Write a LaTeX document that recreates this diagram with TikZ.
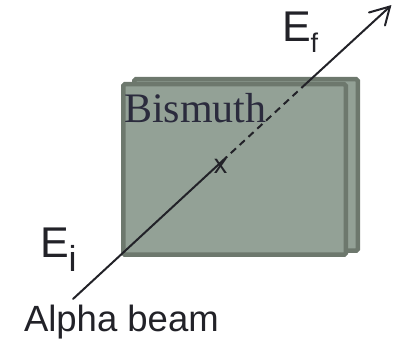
\documentclass[tikz,border=0pt]{standalone}
\usepackage{fontspec}
\setmainfont{Liberation Sans}
\newfontfamily\serifbis{Liberation Serif}
\usetikzlibrary{arrows.meta}
\definecolor{platefill}{HTML}{93A196}
\definecolor{plateedge}{HTML}{6D786D}
\definecolor{ink}{HTML}{222228}
\definecolor{bisink}{HTML}{2B2B3D}
\tikzset{
  plate/.style={fill=platefill,draw=plateedge,line width=4.5pt,rounded corners=1.5pt},
  lbl/.style={inner sep=0pt,outer sep=0pt,text=ink,anchor=base west},
  beam/.style={draw=ink,line width=2pt},
}
\begin{document}
\begin{tikzpicture}[x=1pt,y=-1pt]
\useasboundingbox (0,0) rectangle (399,347);
% plates
\draw[plate] (134.25,79.25) rectangle (357.75,250.75);
\draw[plate] (123.25,84.25) rectangle (345.75,254.75);
% labels
\node[lbl,text=bisink] (bis) at (124,123) {\serifbis\fontsize{42}{42}\selectfont Bismuth};
\node[lbl] (ef) at (282,42) {\fontsize{43}{43}\selectfont E\fontsize{27}{27}\selectfont\raisebox{-11pt}{f}};
\node[lbl] (ei) at (40,258) {\fontsize{43}{43}\selectfont E\fontsize{36}{36}\selectfont\raisebox{-14pt}{i}};
\node[lbl] (alpha) at (24,332) {\fontsize{36.5}{36.5}\selectfont Alpha beam};
\node[inner sep=0pt,text=ink] (xm) at (220.5,166) {\fontsize{27}{27}\selectfont x};
% beam
\coordinate (start) at (73,299);
\coordinate (mid) at (222,161.3);
\coordinate (dend) at (306,83.7);
\coordinate (tip) at (390,6.5);
\draw[beam,line cap=round] (start) -- (mid);
\draw[beam,dash pattern=on 7pt off 5pt] (mid) -- (dend);
\draw[beam] (dend) -- (tip);
\draw[beam,line cap=round,line join=miter] (tip) ++(-21,6) -- (tip) -- ++(-5,19);
\end{tikzpicture}
\end{document}
